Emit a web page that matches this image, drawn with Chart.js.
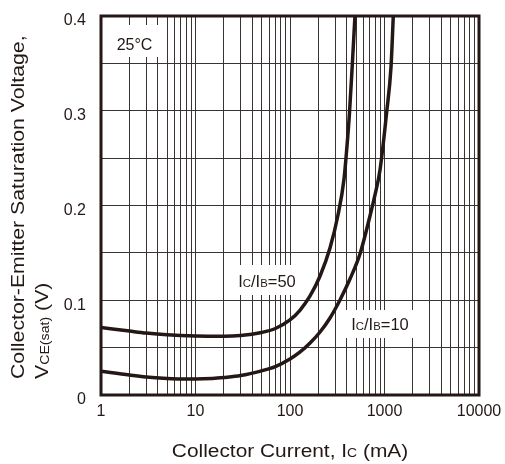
<!DOCTYPE html>
<html>
<head>
<meta charset="utf-8">
<script src="https://cdn.jsdelivr.net/npm/chart.js@4/dist/chart.umd.min.js"></script>
<style>
  html, body { margin: 0; padding: 0; background: #ffffff; }
  #wrap { width: 505px; height: 464px; }
</style>
</head>
<body>
<div id="wrap"><canvas id="c" width="505" height="464"></canvas></div>
<script>
// ---- data ----
const ic50  = [1, 2, 3, 5, 10, 20, 30, 50, 70, 100, 128, 163, 208, 265, 322, 373, 401, 426, 456, 487];
const vce50 = [0.0712, 0.0675, 0.0654, 0.0635, 0.0622, 0.0619, 0.0627, 0.0660, 0.0702, 0.0792, 0.0897, 0.1045, 0.1256, 0.1552, 0.1900, 0.2280, 0.2628, 0.2976, 0.3483, 0.400];

const ic10  = [1, 2, 3, 5, 7, 10, 15, 20, 30, 50, 70, 100, 128, 163, 208, 265, 338, 431, 550, 702, 793, 896, 1055, 1172, 1239];
const vce10 = [0.025, 0.021, 0.019, 0.0175, 0.017, 0.017, 0.0175, 0.0185, 0.0205, 0.0255, 0.030, 0.038, 0.0454, 0.0549, 0.0665, 0.0813, 0.1003, 0.1224, 0.1488, 0.1889, 0.2111, 0.2375, 0.2987, 0.3462, 0.400];

const xTickLabels = ['1', '10', '100', '1000', '10000'];
const yTickLabels = ['0', '0.1', '0.2', '0.3', '0.4'];
const xDecades = [1, 10, 100, 1000];
const xSteps = [1, 2, 3, 4, 5, 6, 7, 8, 9];

const INK = '#231815';
const GRID = '#3a3333';
const FONT = '"Liberation Sans", Arial, Helvetica, sans-serif';

// grid tick values for the log axis (1..9 per decade)
const xGrid = [];
xDecades.forEach(d => xSteps.forEach(s => xGrid.push(d * s)));
xGrid.push(10000);

function fontStr(size) { return size + 'px ' + FONT; }

function drawRich(ctx, parts, x, y, sx, align) {
  ctx.save();
  let w = 0;
  parts.forEach(p => { ctx.font = fontStr(p.s); w += ctx.measureText(p.t).width; });
  ctx.translate(x, y);
  ctx.scale(sx, 1);
  let cx = align === 'center' ? -w / 2 : 0;
  ctx.textBaseline = 'alphabetic';
  ctx.textAlign = 'left';
  ctx.fillStyle = INK;
  parts.forEach(p => {
    ctx.font = fontStr(p.s);
    ctx.fillText(p.t, cx, p.dy || 0);
    cx += ctx.measureText(p.t).width;
  });
  ctx.restore();
}

const decorPlugin = {
  id: 'decor',
  beforeDatasetsDraw(chart) {
    const ctx = chart.ctx;
    ctx.save();
    ctx.fillStyle = '#ffffff';
    // label boxes
    ctx.fillRect(103, 25, 59, 32);
    ctx.fillRect(233, 265, 68, 30);
    ctx.fillRect(346, 310, 68, 28);
    ctx.restore();
    drawRich(ctx, [{t: '25°C', s: 16}], 134.5, 50, 1, 'center');
    drawRich(ctx, [{t: 'I', s: 16}, {t: 'C', s: 11}, {t: '/I', s: 16}, {t: 'B', s: 11}, {t: '=50', s: 16}], 267, 287, 1.03, 'center');
    drawRich(ctx, [{t: 'I', s: 16}, {t: 'C', s: 11}, {t: '/I', s: 16}, {t: 'B', s: 11}, {t: '=10', s: 16}], 380, 330, 1.03, 'center');
  },
  afterDraw(chart) {
    const ctx = chart.ctx;
    const a = chart.chartArea;
    ctx.save();
    ctx.strokeStyle = INK;
    ctx.lineWidth = 3;
    ctx.strokeRect(a.left, a.top, a.right - a.left, a.bottom - a.top);
    ctx.restore();
    // y axis title (two lines, rotated)
    ctx.save();
    ctx.translate(24, 379);
    ctx.rotate(-Math.PI / 2);
    drawRich(ctx, [{t: 'Collector-Emitter Saturation Voltage,', s: 18}], 0, 0, 1.18, 'left');
    drawRich(ctx, [{t: 'V', s: 18}, {t: 'CE(sat)', s: 12, dy: 1}, {t: ' (V)', s: 18}], 0, 24, 1.18, 'left');
    ctx.restore();
    // x axis title
    drawRich(ctx, [{t: 'Collector Current, I', s: 18}, {t: 'C', s: 12}, {t: ' (mA)', s: 18}], 290, 457, 1.16, 'center');
  }
};

function pts(xs, ys) { return xs.map((x, i) => ({x: x, y: ys[i]})); }

new Chart(document.getElementById('c').getContext('2d'), {
  type: 'line',
  data: {
    datasets: [
      { label: 'IC/IB=50', data: pts(ic50, vce50), borderColor: INK, borderWidth: 3.5,
        pointRadius: 0, fill: false, cubicInterpolationMode: 'monotone' },
      { label: 'IC/IB=10', data: pts(ic10, vce10), borderColor: INK, borderWidth: 3.5,
        pointRadius: 0, fill: false, cubicInterpolationMode: 'monotone' }
    ]
  },
  options: {
    responsive: false,
    animation: false,
    devicePixelRatio: 1,
    layout: { padding: { left: 0, right: 26, top: 16, bottom: 0 } },
    plugins: { legend: { display: false }, tooltip: { enabled: false }, title: { display: false } },
    scales: {
      x: {
        type: 'logarithmic',
        min: 1, max: 10000,
        afterBuildTicks(axis) { axis.ticks = xGrid.map(v => ({ value: v })); },
        afterFit(s) { s.height = 69; s.paddingLeft = 0; s.paddingRight = 0; },
        ticks: {
          autoSkip: false, maxRotation: 0, minRotation: 0, padding: 7,
          color: INK, font: { family: FONT, size: 16 },
          callback(v) {
            const i = [1, 10, 100, 1000, 10000].indexOf(v);
            return i >= 0 ? xTickLabels[i] : '';
          }
        },
        grid: { color: GRID, lineWidth: 1, drawTicks: false },
        border: { display: false }
      },
      y: {
        min: 0, max: 0.4,
        afterFit(s) { s.width = 101; s.paddingTop = 0; s.paddingBottom = 0; },
        ticks: {
          stepSize: 0.05, padding: 15, labelOffset: 5,
          color: INK, font: { family: FONT, size: 16 },
          callback(v) {
            const k = Math.round(v * 100);
            return k % 10 === 0 ? yTickLabels[k / 10] : '';
          }
        },
        grid: { color: GRID, lineWidth: 1, drawTicks: false },
        border: { display: false }
      }
    }
  },
  plugins: [decorPlugin]
});
</script>
</body>
</html>
